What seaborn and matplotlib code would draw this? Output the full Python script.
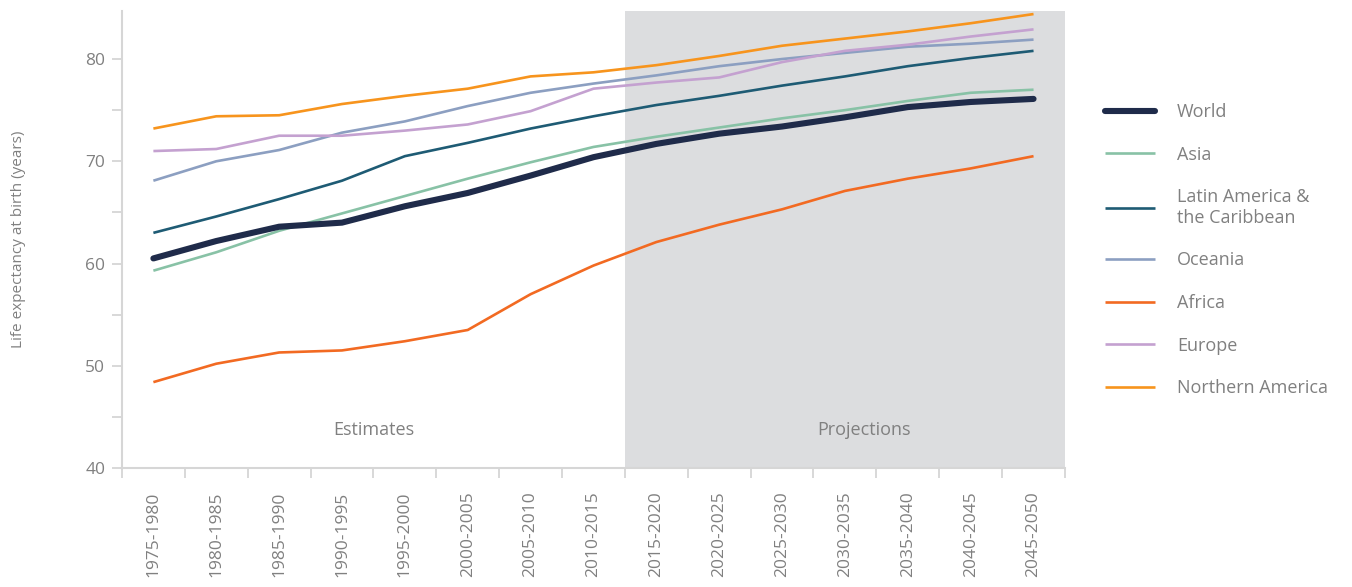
import pandas as pd
import numpy as np
import matplotlib
matplotlib.use("Agg")
from matplotlib import pyplot as plt
from matplotlib.lines import Line2D
from matplotlib.ticker import MultipleLocator, FixedLocator
import seaborn as sns

periods = ['1975-1980', '1980-1985', '1985-1990', '1990-1995', '1995-2000',
           '2000-2005', '2005-2010', '2010-2015', '2015-2020', '2020-2025',
           '2025-2030', '2030-2035', '2035-2040', '2040-2045', '2045-2050']

world = [60.5, 62.2, 63.6, 64.0, 65.6, 66.9, 68.6, 70.4, 71.7, 72.7, 73.4, 74.3, 75.3, 75.8, 76.1]
asia = [59.3, 61.1, 63.2, 64.9, 66.6, 68.3, 69.9, 71.4, 72.4, 73.3, 74.2, 75.0, 75.9, 76.7, 77.0]
latin_america = [63.0, 64.6, 66.3, 68.1, 70.5, 71.8, 73.2, 74.4, 75.5, 76.4, 77.4, 78.3, 79.3, 80.1, 80.8]
oceania = [68.1, 70.0, 71.1, 72.8, 73.9, 75.4, 76.7, 77.6, 78.4, 79.3, 80.0, 80.6, 81.2, 81.5, 81.9]
africa = [48.4, 50.2, 51.3, 51.5, 52.4, 53.5, 57.0, 59.8, 62.1, 63.8, 65.3, 67.1, 68.3, 69.3, 70.5]
europe = [71.0, 71.2, 72.5, 72.5, 73.0, 73.6, 74.9, 77.1, 77.7, 78.2, 79.7, 80.8, 81.4, 82.2, 82.9]
northern_america = [73.2, 74.4, 74.5, 75.6, 76.4, 77.1, 78.3, 78.7, 79.4, 80.3, 81.3, 82.0, 82.7, 83.5, 84.4]

regions = ['World', 'Asia', 'Latin America &\nthe Caribbean', 'Oceania',
           'Africa', 'Europe', 'Northern America']
series = [world, asia, latin_america, oceania, africa, europe, northern_america]
colors = ['#1f2b4a', '#88c2a6', '#1e5b74', '#8c9fc1', '#f26a22', '#c4a1d0', '#f7941d']
widths = [4.4, 1.9, 1.9, 1.9, 1.9, 1.9, 1.9]

n_est = 8  # first 8 periods are estimates

rows = []
for name, vals in zip(regions, series):
    for i, v in enumerate(vals):
        rows.append({'region': name, 'idx': i, 'value': v})
df = pd.DataFrame(rows)

sns.set_style('white')
plt.rcParams['font.family'] = ['Open Sans', 'DejaVu Sans']

grey = '#808080'
axis_grey = '#d6d6d6'

fig = plt.figure(figsize=(13.52, 5.87), dpi=100)
ax = fig.add_axes([0.0902, 0.2027, 0.6975, 0.7786])

ax.axvspan(n_est - 0.5, len(periods) - 0.5, color='#dcdddf', lw=0, zorder=0)

# draw regions first, world on top
order = list(range(1, len(regions))) + [0]
for k in order:
    sub = df[df['region'] == regions[k]]
    sns.lineplot(data=sub, x='idx', y='value', color=colors[k], lw=widths[k],
                 ax=ax, zorder=3 if k == 0 else 2, legend=False,
                 solid_capstyle='round' if k == 0 else 'butt')

ax.set_xlim(-0.5, len(periods) - 0.5)
ax.set_ylim(40, 84.7)
ax.set_xlabel('')
ax.set_ylabel('Life expectancy at birth (years)', color=grey, fontsize=11, labelpad=43)

ax.text((n_est - 1) / 2, 43.7, 'Estimates', color=grey, fontsize=13, ha='center', va='center')
ax.text(11.3, 43.7, 'Projections', color=grey, fontsize=13, ha='center', va='center')

for side in ['top', 'right']:
    ax.spines[side].set_visible(False)
for side in ['left', 'bottom']:
    ax.spines[side].set_color(axis_grey)
    ax.spines[side].set_linewidth(1.5)

ax.yaxis.set_major_locator(MultipleLocator(10))
ax.yaxis.set_minor_locator(MultipleLocator(5))
ax.tick_params(axis='y', which='both', length=7, width=1.3, color=axis_grey,
               labelcolor=grey, labelsize=12.5, pad=5, left=True)

ax.xaxis.set_major_locator(FixedLocator(np.arange(-0.5, len(periods), 1.0)))
ax.xaxis.set_minor_locator(FixedLocator(np.arange(len(periods))))
ax.set_xticklabels([], minor=False)
ax.set_xticklabels(periods, minor=True, rotation=90, va='top', ha='center')
ax.tick_params(axis='x', which='major', length=7, width=1.3, color=axis_grey, bottom=True)
ax.tick_params(axis='x', which='minor', length=0, labelcolor=grey, labelsize=12.5, pad=17, bottom=True)

handles = [Line2D([0], [0], color=c, lw=w, solid_capstyle='round' if i == 0 else 'butt')
           for i, (c, w) in enumerate(zip(colors, widths))]
leg = fig.legend(handles, regions, loc='upper left', bbox_to_anchor=(0.8105, 0.84),
                 frameon=False, fontsize=13, handlelength=2.8, handletextpad=1.2,
                 labelspacing=1.36, borderpad=0)
for t in leg.get_texts():
    t.set_color(grey)

fig.savefig('out.png', dpi=100)
